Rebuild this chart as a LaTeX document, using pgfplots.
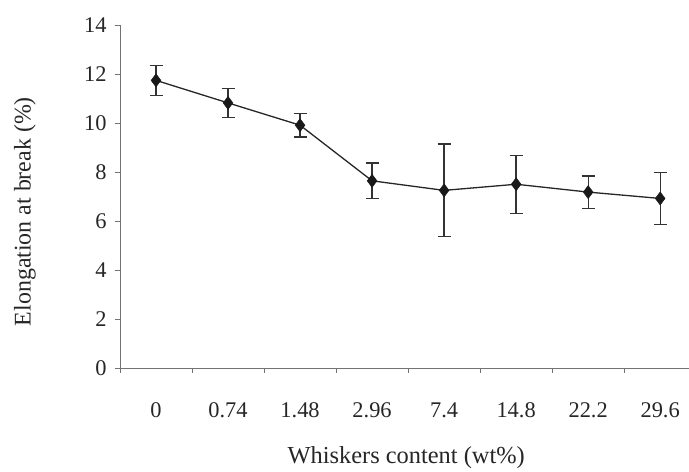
\documentclass[border=0pt]{standalone}
\usepackage{fontspec}
\setmainfont{Liberation Serif}
\usepackage{pgfplots}
\pgfplotsset{compat=1.18}
\pgfplotstableread{
x y e
0 11.74 0.61
1 10.82 0.60
2 9.91 0.48
3 7.64 0.73
4 7.25 1.89
5 7.50 1.18
6 7.18 0.66
7 6.92 1.07
}\datatable
\begin{document}
\begin{tikzpicture}
\begin{axis}[
  scale only axis, width=569bp, height=343bp,
  xmin=-0.5, xmax=7.4, ymin=0, ymax=14,
  axis x line=bottom, axis y line=left,
  axis line style={-, draw=black!55, line width=0.7bp},
  /pgf/number format/assume math mode=true,
  every tick label/.append style={font=\fontsize{22.5}{26}\selectfont, text=black!85},
  xtick={0,...,7}, xticklabels={0,0.74,1.48,2.96,7.4,14.8,22.2,29.6},
  major x tick style={draw=none},
  minor xtick={-0.5,0.5,...,6.5},
  minor tick length=5bp, major tick length=5bp,
  tick align=outside,
  tick style={draw=black!55, line width=0.7bp},
  ytick={0,2,...,14},
  xticklabel style={anchor=base, yshift=-44bp},
  yticklabel style={anchor=east, xshift=-5bp},
  every axis y label/.style={at={(axis description cs:-0.167,0.456)}, rotate=90, anchor=center, font=\fontsize{24}{28}\selectfont, text=black!85},
  every axis x label/.style={at={(axis description cs:0.503,-0.262)}, anchor=center, font=\fontsize{24.5}{28}\selectfont, text=black!85},
  ylabel={Elongation at break (\%)},
  xlabel={Whiskers content (wt\%)},
  clip=false,
]
\addplot[line width=1.3bp, color=black!85, mark=diamond*, mark size=6.5bp,
  mark options={fill=black!90, draw=black!90, line width=0.5bp},
  error bars/.cd, y dir=both, y explicit,
  error bar style={line width=1.3bp, black!80},
  error mark options={rotate=90, mark size=6.5bp, line width=1.3bp, black!80}]
  table[x=x, y=y, y error=e] {\datatable};
\end{axis}
\pgfresetboundingbox
\path (-120bp,-104bp) rectangle (569bp,368bp);
\end{tikzpicture}
\end{document}
